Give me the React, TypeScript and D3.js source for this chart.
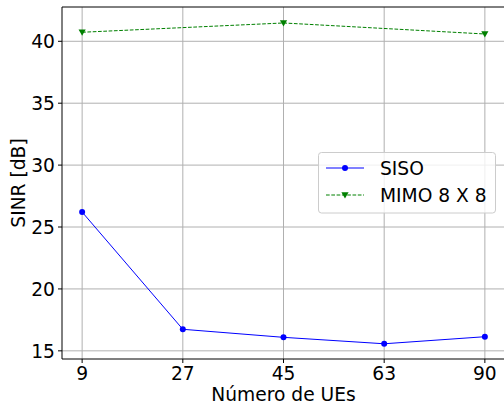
import React from "react";
import * as d3 from "d3";

const categories = ["9", "27", "45", "63", "90"];
const sisoValues = [26.21, 16.74, 16.09, 15.57, 16.14];
const mimoCats = ["9", "45", "90"];
const mimoValues = [40.73, 41.48, 40.59];
const yTicks = [15, 20, 25, 30, 35, 40];
const seriesNames = ["SISO", "MIMO 8 X 8"];

const W = 504;
const H = 407;
const left = 62;
const right = 505;
const top = 7;
const bottom = 359;
const font = "DejaVu Sans, sans-serif";
const fs = 18.67;

export default function App() {
  const x = d3.scaleLinear().domain([-0.2, categories.length - 1 + 0.2]).range([left, right]);
  const y = d3.scaleLinear().domain([14.34, 42.77]).range([bottom, top]);
  const xi = (c: string) => x(categories.indexOf(c));

  const sisoLine = d3
    .line<number>()
    .x((_, i) => x(i))
    .y((d) => y(d))(sisoValues) as string;
  const mimoLine = d3
    .line<number>()
    .x((_, i) => xi(mimoCats[i]))
    .y((d) => y(d))(mimoValues) as string;

  const tri = (cx: number, cy: number, s = 3.6) =>
    `M${cx - s},${cy - s * 0.75}L${cx + s},${cy - s * 0.75}L${cx},${cy + s}Z`;

  return (
    <svg width={W} height={H} style={{ position: "absolute", left: 0, top: 0 }}>
      <rect width={W} height={H} fill="white" />
      {/* grid */}
      {categories.map((c, i) => (
        <line key={"gx" + c} x1={x(i)} x2={x(i)} y1={top} y2={bottom} stroke="#b0b0b0" strokeWidth={1} />
      ))}
      {yTicks.map((t) => (
        <line key={"gy" + t} x1={left} x2={right} y1={y(t)} y2={y(t)} stroke="#b0b0b0" strokeWidth={1} />
      ))}
      {/* lines */}
      <path d={sisoLine} fill="none" stroke="blue" strokeWidth={1} />
      {sisoValues.map((v, i) => (
        <circle key={"s" + i} cx={x(i)} cy={y(v)} r={3} fill="blue" />
      ))}
      <path d={mimoLine} fill="none" stroke="green" strokeWidth={1} strokeDasharray="3.7,1.6" />
      {mimoValues.map((v, i) => (
        <path key={"m" + i} d={tri(xi(mimoCats[i]), y(v))} fill="green" />
      ))}
      {/* spines */}
      <line x1={left} x2={left} y1={top} y2={bottom} stroke="black" strokeWidth={1} />
      <line x1={left} x2={right} y1={bottom} y2={bottom} stroke="black" strokeWidth={1} />
      <line x1={left} x2={right} y1={top} y2={top} stroke="black" strokeWidth={1} />
      {/* ticks */}
      {yTicks.map((t) => (
        <g key={"ty" + t}>
          <line x1={left - 4} x2={left} y1={y(t)} y2={y(t)} stroke="black" />
          <text x={left - 7} y={y(t)} dy="0.36em" textAnchor="end" fontFamily={font} fontSize={fs}>
            {t}
          </text>
        </g>
      ))}
      {categories.map((c, i) => (
        <g key={"tx" + c}>
          <line x1={x(i)} x2={x(i)} y1={bottom} y2={bottom + 4} stroke="black" />
          <text x={x(i)} y={379.5} textAnchor="middle" fontFamily={font} fontSize={fs}>
            {c}
          </text>
        </g>
      ))}
      <text x={(left + right) / 2} y={401} textAnchor="middle" fontFamily={font} fontSize={fs}>
        Número de UEs
      </text>
      <text
        transform={`translate(25,${(top + bottom) / 2}) rotate(-90)`}
        textAnchor="middle"
        fontFamily={font}
        fontSize={fs}
      >
        SINR [dB]
      </text>
      {/* legend */}
      <rect x={318.5} y={152.5} width={177} height={60.5} rx={3} fill="white" fillOpacity={0.8} stroke="#cccccc" />
      <line x1={326} x2={364} y1={168} y2={168} stroke="blue" strokeWidth={1} />
      <circle cx={345} cy={168} r={3} fill="blue" />
      <line x1={326} x2={364} y1={195} y2={195} stroke="green" strokeWidth={1} strokeDasharray="3.7,1.6" />
      <path d={tri(345, 195)} fill="green" />
      <text x={380} y={175} fontFamily={font} fontSize={fs}>
        {seriesNames[0]}
      </text>
      <text x={380} y={201.7} fontFamily={font} fontSize={fs}>
        {seriesNames[1]}
      </text>
    </svg>
  );
}
